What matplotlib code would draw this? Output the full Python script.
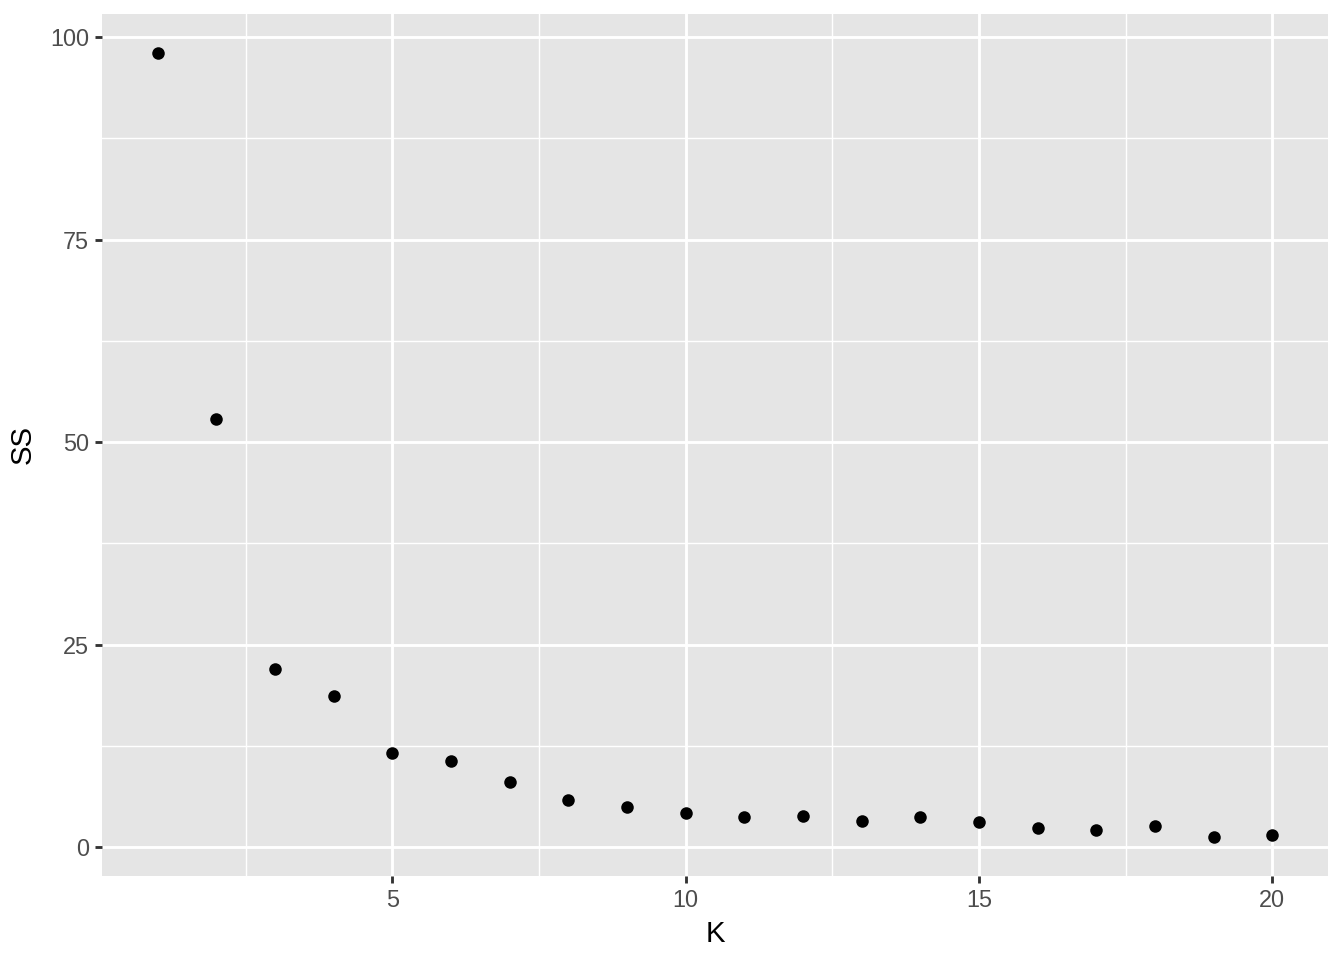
import matplotlib
matplotlib.use("Agg")
import matplotlib.pyplot as plt
import numpy as np

K = list(range(1, 21))
SS = [98.0, 52.8, 22.0, 18.7, 11.6, 10.6, 8.1, 5.9, 5.0, 4.3,
      3.7, 3.9, 3.2, 3.8, 3.1, 2.4, 2.2, 2.6, 1.3, 1.5]
x_ticks = [5, 10, 15, 20]
y_ticks = [0, 25, 50, 75, 100]

plt.rcParams['font.family'] = ['Liberation Sans', 'DejaVu Sans']

fig = plt.figure(figsize=(7, 5), dpi=192)
ax = fig.add_axes([102/1344, 1-876/960, (1328-102)/1344, (876-14)/960])
ax.set_facecolor('#E5E5E5')

xmin, xmax = min(K), max(K)
ymin, ymax = min(SS), max(SS)
xe = (xmax - xmin) * 0.05
ye = (ymax - ymin) * 0.05
ax.set_xlim(xmin - xe, xmax + xe)
ax.set_ylim(ymin - ye, ymax + ye)

ax.set_xticks(x_ticks)
ax.set_yticks(y_ticks)
ax.set_xticks([2.5, 7.5, 12.5, 17.5], minor=True)
ax.set_yticks([12.5, 37.5, 62.5, 87.5], minor=True)
ax.grid(which='major', color='white', linewidth=1.07)
ax.grid(which='minor', color='white', linewidth=0.53)
ax.set_axisbelow(True)
for s in ax.spines.values():
    s.set_visible(False)
ax.tick_params(which='major', length=2.75, width=1.07, color='#333333',
               labelcolor='#4D4D4D', labelsize=8.8, pad=2.2)
ax.tick_params(which='minor', length=0)

ax.plot(K, SS, 'o', color='black', markersize=4.7, markeredgewidth=0)

ax.set_xlabel('K', fontsize=11, color='black', labelpad=3)
ax.set_ylabel('SS', fontsize=11, color='black', labelpad=5)

fig.savefig('out.png', dpi=192, facecolor='white')
